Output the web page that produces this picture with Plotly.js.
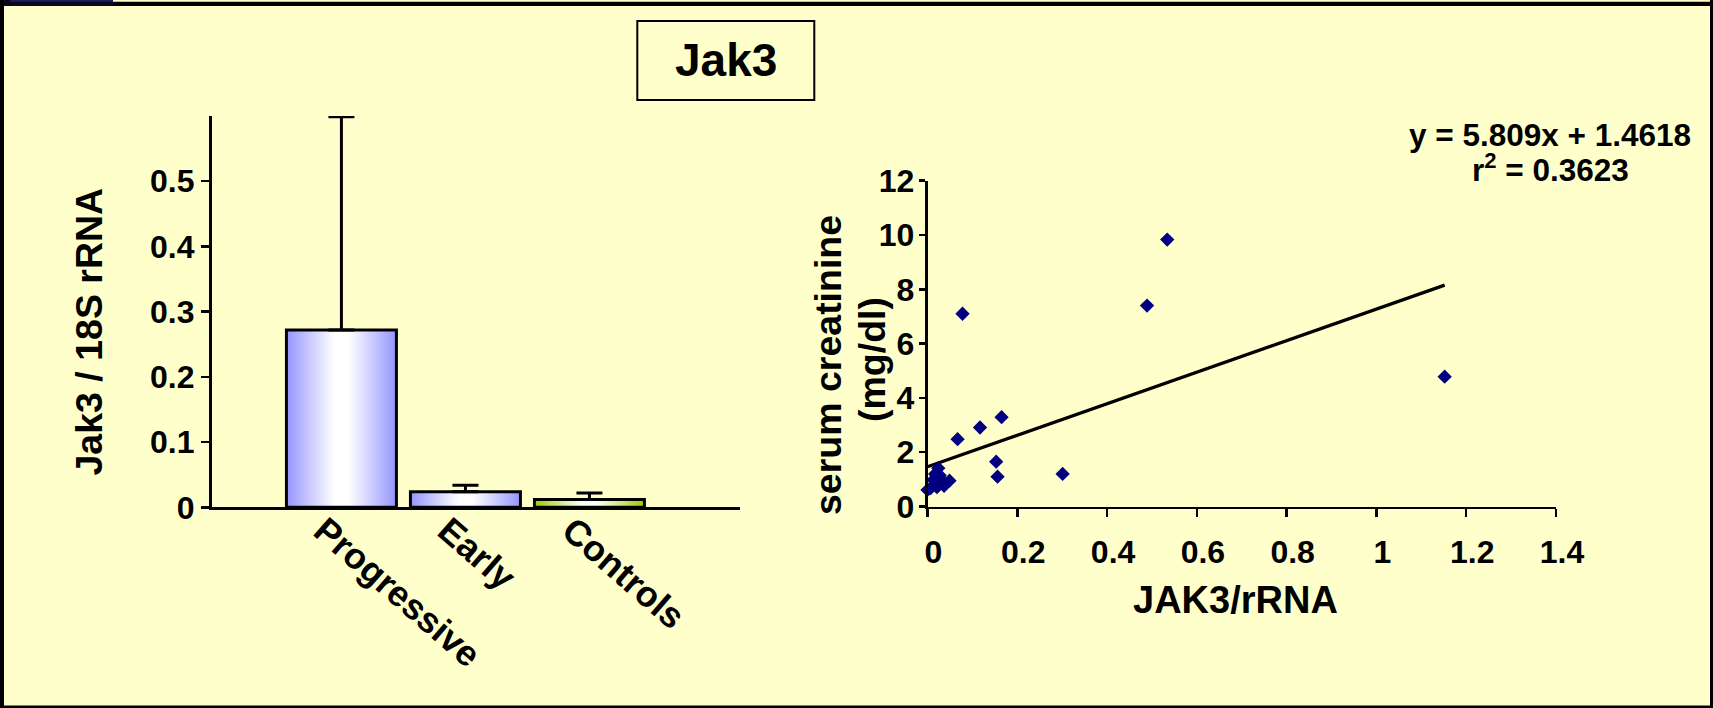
<!DOCTYPE html>
<html><head><meta charset="utf-8">
<script src="https://cdn.plot.ly/plotly-3.0.1.min.js"></script>
<style>html,body{margin:0;padding:0;background:#FFFFCC;overflow:hidden}#chart{width:1713px;height:708px}</style>
</head><body><div id="chart"></div>
<script>
// ---- data ----
const categories = ['Progressive', 'Early', 'Controls'];
const barValues = [0.272, 0.024, 0.012];
const barErrUp = [0.327, 0.010, 0.010];
const barTickVals = [0, 0.1, 0.2, 0.3, 0.4, 0.5];

const jak3 = [0.534, 0.489, 0.078, 1.152, 0.067, 0.117, 0.165, 0.153, 0.156, 0.301,
              0.000, 0.007, 0.013, 0.017, 0.021, 0.024, 0.027, 0.032, 0.037, 0.049];
const creatinine = [9.83, 7.40, 7.10, 4.78, 2.48, 2.91, 3.29, 1.65, 1.10, 1.20,
                    0.61, 0.68, 0.98, 1.20, 0.71, 1.41, 1.15, 0.98, 0.76, 0.95];
const fitSlope = 5.809;
const fitIntercept = 1.4618;
const fitR2 = 0.3623;
const scatterXTicks = [0, 0.2, 0.4, 0.6, 0.8, 1, 1.2, 1.4];
const scatterYTicks = [0, 2, 4, 6, 8, 10, 12];

// ---- styles ----
const W = 1713, H = 708;
const FONT = 'Liberation Sans, Arial, Helvetica, sans-serif';
const barEdgeColors = ['#9494FF', '#9494FF', '#99CC00'];
const barWidth = 0.887;
const px = x => x / W;
const py = y => 1 - y / H;

function hexToRgb(h) { return [parseInt(h.substr(1,2),16), parseInt(h.substr(3,2),16), parseInt(h.substr(5,2),16)]; }
function mixWhite(h, t) {
  const c = hexToRgb(h);
  return 'rgb(' + c.map(v => Math.round(255 + (v - 255) * t)).join(',') + ')';
}

const traces = [];
const N = 24;
for (let k = 0; k < N; k++) {
  const t = 1 - k / N;
  const tm = 1 - (k + 0.5) / N;
  const g = Math.min(1, Math.pow(Math.max(tm - 0.12, 0) / 0.88, 1.05));
  traces.push({
    type: 'bar', x: categories, y: barValues, width: barWidth * t,
    marker: { color: barEdgeColors.map(c => mixWhite(c, g)), line: { width: 0 } },
    hoverinfo: 'skip', showlegend: false, xaxis: 'x', yaxis: 'y'
  });
}
traces.push({
  type: 'bar', x: categories, y: barValues, width: barWidth,
  marker: { color: 'rgba(0,0,0,0)', line: { color: '#000', width: 3 } },
  error_y: { type: 'data', symmetric: false, array: barErrUp, arrayminus: barValues.map(() => 0),
             color: '#000', thickness: 3, width: 13 },
  hoverinfo: 'skip', showlegend: false, xaxis: 'x', yaxis: 'y'
});

const xMax = Math.max(...jak3);
traces.push({
  type: 'scatter', mode: 'lines', x: [0, xMax], y: [fitIntercept, fitSlope * xMax + fitIntercept],
  line: { color: '#000', width: 3.2 }, xaxis: 'x2', yaxis: 'y2', showlegend: false, hoverinfo: 'skip'
});
traces.push({
  type: 'scatter', mode: 'markers', x: jak3, y: creatinine,
  marker: { symbol: 'diamond', size: 11, color: '#000080' },
  xaxis: 'x2', yaxis: 'y2', showlegend: false, cliponaxis: false, hoverinfo: 'skip'
});

const tf = s => ({ family: FONT, size: s, color: '#000', weight: 700 });
const ann = (text, x, y, size, angle) => ({
  text: text, x: px(x), y: py(y), xref: 'paper', yref: 'paper', showarrow: false,
  xanchor: 'center', yanchor: 'middle', textangle: angle || 0, font: tf(size)
});
const rect = (x0, y0, x1, y1, color) => ({
  type: 'rect', xref: 'paper', yref: 'paper', x0: px(x0), x1: px(x1), y0: py(y1), y1: py(y0),
  fillcolor: color, line: { width: 0 }, layer: 'above'
});

const layout = {
  width: W, height: H, margin: { l: 0, r: 0, t: 0, b: 0, pad: 0 },
  paper_bgcolor: '#FFFFCC', plot_bgcolor: 'rgba(0,0,0,0)',
  barmode: 'overlay', showlegend: false, font: tf(20),
  xaxis: {
    domain: [px(211.7), px(739.5)], anchor: 'y', type: 'category',
    range: [-1.046, 3.21], showline: true, linecolor: '#000', linewidth: 2.8,
    ticks: '', showgrid: false, zeroline: false, tickangle: 41, tickfont: tf(36),
    ticklabelshift: -18, ticklabelstandoff: -15, fixedrange: true
  },
  yaxis: {
    domain: [py(507.3), py(116)], anchor: 'x', range: [0, 0.6],
    tickmode: 'array', tickvals: barTickVals, ticks: 'outside', ticklen: 8, tickwidth: 2.5,
    tickcolor: '#000', showline: true, linecolor: '#000', linewidth: 2.8,
    showgrid: false, zeroline: false, tickfont: tf(32), fixedrange: true
  },
  xaxis2: {
    domain: [px(927.5), px(1556)], anchor: 'y2', range: [0, 1.4],
    tickmode: 'array', tickvals: scatterXTicks, ticks: 'outside', ticklen: 8, tickwidth: 2.5,
    tickcolor: '#000', showline: true, linecolor: '#000', linewidth: 2.8,
    showgrid: false, zeroline: false, tickfont: tf(32), ticklabelstandoff: 7, ticklabelshift: 6,
    fixedrange: true
  },
  yaxis2: {
    domain: [py(506.5), py(180.7)], anchor: 'x2', range: [0, 12],
    tickmode: 'array', tickvals: scatterYTicks, ticks: 'outside', ticklen: 6, tickwidth: 2.5,
    tickcolor: '#000', showline: true, linecolor: '#000', linewidth: 2.8,
    showgrid: false, zeroline: false, tickfont: tf(32), ticklabelstandoff: -2, fixedrange: true
  },
  annotations: [
    ann('Jak3', 725.5, 60, 46),
    ann('Jak3 / 18S rRNA', 88, 331.5, 37.5, -90),
    ann('serum creatinine', 828, 365, 37.5, -90),
    ann('(mg/dl)', 872, 359, 37.5, -90),
    ann('JAK3/rRNA', 1235, 600, 38),
    ann('y = ' + fitSlope + 'x + ' + fitIntercept, 1550, 135, 31.5),
    ann('r<sup>2</sup> = ' + fitR2, 1550.5, 168, 31.5)
  ],
  shapes: [
    { type: 'rect', xref: 'paper', yref: 'paper', x0: px(637.3), x1: px(814.3), y0: py(100), y1: py(21),
      line: { color: '#000', width: 2 }, fillcolor: 'rgba(0,0,0,0)' },
    rect(0, 1.7, W, 6, '#000'),
    rect(0, 0, 113, 6, '#08081e'),
    rect(10, 0, 113, 1.8, '#1e1e5a'),
    rect(0, 0, 4, H, '#000'),
    rect(W - 3, 0, W, H, '#000'),
    rect(0, H - 2.5, W, H, '#000')
  ]
};

Plotly.newPlot('chart', traces, layout, { staticPlot: true, displayModeBar: false });
</script>
</body></html>
